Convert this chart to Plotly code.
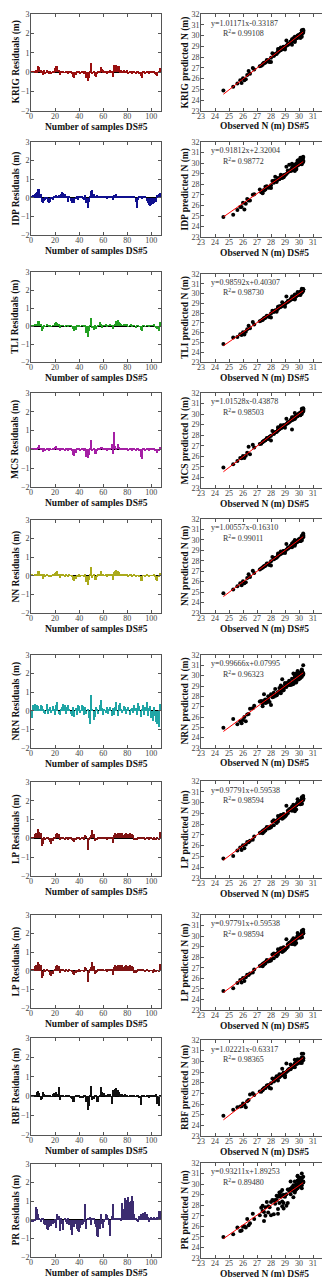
import plotly.graph_objects as go

W, H = 330, 1277

methods = ["KRIG", "IDP", "TLI", "MCS", "NN", "NRN", "LP", "LP", "RBF", "PR"]
bar_colors = ["#9a0f0f", "#10108f", "#22a022", "#a51fa5", "#aaaa1c",
              "#1fa5a5", "#801414", "#801414", "#111111", "#3c2c70"]
slopes = [1.01171, 0.91812, 0.98592, 1.01528, 1.00557, 0.99666, 0.97791, 0.97791, 1.02221, 0.93211]
intercepts = [-0.33187, 2.32004, 0.40307, -0.43878, -0.16310, 0.07995, 0.59538, 0.59538, -0.63317, 1.89253]
r2_values = ["0.99108", "0.98772", "0.98730", "0.98503", "0.99011", "0.96323", "0.98594", "0.98594", "0.98365", "0.89480"]

observed = [
    29.8, 30.1, 29.5, 28.9, 30.2, 29.7, 26.1, 28.4, 29.9, 30.3,
    27.6, 29.2, 30.0, 28.7, 26.3, 29.6, 30.2, 28.2, 29.4, 27.8,
    30.1, 25.9, 29.0, 28.6, 30.3, 29.8, 27.4, 28.9, 30.0, 29.3,
    26.0, 28.5, 29.7, 30.2, 28.1, 24.6, 29.5, 30.1, 27.7, 28.8,
    29.9, 25.6, 28.3, 30.0, 29.6, 26.7, 29.1, 30.2, 27.5, 28.0,
    29.8, 25.3, 28.7, 30.3, 29.4, 29.9, 28.4, 26.2, 30.1, 27.3,
    28.9, 29.7, 25.8, 30.0, 28.6, 29.9, 26.5, 28.5, 29.5, 30.2,
    27.9, 29.0, 30.1, 29.6, 27.4, 28.8, 27.6, 29.1, 28.2, 27.8,
    28.9, 28.0, 29.2, 28.5, 27.5, 29.9, 30.3, 29.3, 28.7, 30.0,
    29.7, 26.4, 29.4, 30.2, 28.6, 29.8, 27.2, 30.1, 29.5, 28.3,
    29.9, 30.0, 26.8, 29.6, 30.3, 28.8, 29.7,
]

res_krig = [
    0.05, 0.08, 0.06, 0.1, 0.05, 0.3, 0.25, 0.1, 0.05, -0.15,
    0.1, -0.05, 0.1, 0.05, -0.05, 0.03, -0.05, 0.08, 0.05, 0.2,
    0.3, 0.3, 0.12, -0.15, 0.05, 0.03, 0.05, -0.04, 0.06, 0.04,
    -0.05, 0.05, 0.03, -0.1, -0.25, -0.3, -0.15, 0.05, -0.04, 0.05,
    -0.1, 0.05, 0.04, -0.06, 0.05, -0.3, -0.45, -0.3, 0.05, 0.45,
    -0.1, 0.05, -0.2, -0.25, -0.05, 0.08, 0.05, 0.25, 0.15, 0.1,
    0.05, 0.08, -0.05, 0.05, 0.03, 0.1, 0.05, -0.25, 0.35, 0.3,
    0.35, 0.3, 0.3, 0.1, 0.12, 0.05, 0.1, 0.05, 0.08, 0.1,
    -0.05, 0.05, 0.08, -0.05, 0.03, 0.05, -0.08, 0.05, 0.03, -0.05,
    -0.2, -0.3, 0.05, 0.03, -0.05, 0.05, 0.04, -0.06, 0.05, 0.03,
    0.05, 0.08, -0.05, -0.15, -0.2, 0.05, 0.2,
]
res_idp = [
    0.1, 0.15, 0.2, 0.25, 0.3, 0.45, 0.5, 0.2, -0.25, -0.3,
    -0.15, -0.1, -0.05, -0.2, -0.3, -0.2, -0.05, -0.1, 0.05, 0.1,
    0.15, 0.05, 0.15, 0.1, 0.2, 0.3, 0.25, 0.2, 0.1, 0.05,
    -0.25, 0.05, -0.15, -0.3, -0.2, -0.3, -0.05, 0.05, -0.1, 0.05,
    0.1, 0.05, -0.05, -0.1, 0.15, -0.3, -0.55, -0.2, 0.05, 0.35,
    0.4, 0.2, 0.1, 0.05, 0.15, 0.1, 0.05, 0.05, 0.1, 0.05,
    0.08, 0.1, -0.05, 0.05, 0.1, 0.12, 0.05, -0.1, 0.15, 0.1,
    0.2, 0.1, 0.05, 0.1, 0.08, 0.05, 0.1, 0.12, 0.05, 0.1,
    0.05, 0.1, 0.08, 0.05, 0.1, 0.1, -0.2, -0.55, -0.1, 0.05,
    0.05, -0.05, 0.1, 0.05, 0.05, -0.15, -0.3, -0.4, -0.45, -0.4,
    -0.35, -0.3, -0.25, -0.2, 0.15, 0.2, 0.25,
]
res_tli = [
    0.05, 0.04, 0.06, 0.05, 0.08, 0.3, 0.3, 0.1, -0.25, -0.15,
    0.05, -0.04, 0.06, 0.03, -0.05, 0.04, -0.03, 0.05, 0.04, 0.15,
    0.2, 0.15, 0.1, -0.1, 0.05, 0.03, 0.05, -0.04, 0.05, 0.03,
    -0.04, 0.05, 0.03, -0.05, -0.15, -0.25, -0.2, 0.04, -0.03, 0.05,
    -0.05, 0.04, 0.03, -0.05, 0.05, -0.4, -0.6, -0.3, 0.05, 0.45,
    -0.1, -0.2, 0.05, -0.15, -0.05, 0.05, 0.25, 0.1, -0.1, 0.05,
    0.04, 0.06, -0.04, 0.05, 0.03, 0.06, 0.04, -0.15, 0.05, 0.08,
    0.3, 0.35, 0.25, 0.15, 0.1, 0.05, 0.08, 0.04, 0.06, 0.08,
    -0.04, 0.05, 0.06, -0.04, 0.03, 0.05, -0.06, 0.04, 0.03, -0.04,
    -0.2, -0.3, 0.04, 0.03, -0.04, 0.05, 0.03, -0.05, 0.04, 0.03,
    0.04, 0.06, -0.04, -0.1, -0.15, -0.3, 0.2,
]
res_mcs = [
    0.05, 0.04, 0.06, 0.05, 0.08, 0.15, 0.25, 0.08, 0.05, -0.15,
    0.05, -0.04, 0.06, 0.03, -0.05, 0.04, -0.03, 0.05, 0.04, 0.15,
    0.2, 0.08, 0.05, -0.1, 0.05, 0.03, 0.05, -0.04, 0.05, 0.03,
    -0.04, 0.05, 0.03, -0.05, -0.3, -0.35, -0.2, 0.04, -0.03, 0.05,
    -0.05, 0.04, 0.03, -0.05, 0.05, -0.4, -0.45, -0.3, 0.05, 0.5,
    -0.1, 0.05, -0.25, -0.25, -0.05, 0.05, 0.08, 0.15, 0.15, 0.1,
    0.04, 0.06, -0.04, 0.05, 0.03, 0.06, 0.3, -0.25, 0.95, 0.2,
    0.05, 0.3, 0.15, 0.1, 0.05, 0.05, 0.08, 0.04, 0.06, 0.05,
    -0.04, 0.05, 0.06, -0.04, 0.03, 0.05, -0.06, 0.04, 0.03, -0.04,
    -0.4, -0.5, 0.04, 0.03, -0.04, 0.05, 0.03, -0.05, 0.04, 0.03,
    0.04, 0.06, -0.04, -0.1, -0.2, -0.05, 0.15,
]
res_nn = [
    0.05, 0.04, 0.06, 0.05, 0.08, 0.25, 0.25, 0.08, 0.05, -0.15,
    0.05, -0.04, 0.06, 0.03, -0.05, 0.04, -0.03, 0.05, 0.04, 0.15,
    0.2, 0.25, 0.1, -0.1, 0.05, 0.03, 0.05, -0.04, 0.05, 0.03,
    -0.04, 0.05, 0.03, -0.05, -0.25, -0.3, -0.15, 0.04, -0.03, 0.05,
    -0.05, 0.04, 0.03, -0.05, 0.05, -0.35, -0.5, -0.2, 0.05, 0.45,
    -0.1, 0.05, -0.2, -0.2, -0.05, 0.05, 0.08, 0.25, 0.1, 0.05,
    0.04, 0.06, -0.04, 0.05, 0.03, 0.06, 0.05, -0.2, 0.2, 0.25,
    0.3, 0.25, 0.2, 0.08, 0.05, 0.05, 0.08, 0.04, 0.06, 0.05,
    -0.04, 0.05, 0.06, -0.04, 0.03, 0.05, -0.06, 0.04, 0.03, -0.04,
    -0.3, -0.3, 0.04, 0.03, -0.04, 0.05, 0.03, -0.05, 0.04, 0.03,
    0.04, 0.06, -0.04, -0.2, -0.3, -0.05, 0.15,
]
res_nrn = [
    -0.4, 0.3, 0.35, 0.1, 0.3, 0.25, 0.1, 0.3, 0.25, 0.05,
    -0.1, -0.15, 0.35, -0.15, 0.05, 0.2, -0.1, 0.25, 0.1, -0.2,
    0.3, 0.5, -0.15, -0.2, 0.1, 0.2, 0.35, 0.3, -0.15, 0.2,
    0.3, 0.1, -0.15, -0.3, 0.2, -0.35, 0.15, -0.2, 0.3, 0.25,
    -0.1, 0.3, 0.25, -0.2, 0.2, -0.15, 0.1, -0.4, -0.7, 0.85,
    0.1, -0.5, -0.35, 0.2, 0.1, -0.15, 0.3, 0.6, 0.15, -0.25,
    0.1, -0.1, 0.2, -0.15, 0.1, 0.2, -0.3, 0.15, -0.2, 0.2,
    0.45, -0.3, 0.3, 0.4, 0.1, -0.1, 0.25, 0.2, -0.15, 0.1,
    0.2, -0.2, 0.1, 0.15, -0.1, 0.3, 0.15, -0.2, 0.4, 0.25,
    -0.35, 0.1, 0.3, -0.25, 0.2, 0.45, -0.3, 0.15, 0.25, -0.4,
    -0.55, 0.2, -0.3, -0.6, -0.7, -0.85, 0.35,
]
res_lp = [
    0.05, 0.1, 0.25, 0.3, 0.3, 0.5, 0.35, 0.3, -0.4, -0.3,
    0.05, -0.04, 0.06, 0.03, -0.05, -0.2, -0.3, -0.15, 0.04, 0.1,
    0.25, 0.3, 0.25, -0.1, 0.05, 0.03, 0.05, -0.04, 0.05, 0.03,
    -0.04, 0.05, 0.03, -0.05, -0.15, -0.2, -0.1, 0.04, -0.03, 0.05,
    -0.05, 0.04, 0.03, -0.05, 0.2, 0.15, -0.6, -0.1, 0.05, 0.2,
    0.45, 0.25, -0.15, -0.1, -0.05, 0.05, 0.08, 0.1, 0.1, 0.05,
    0.04, 0.06, -0.04, 0.05, 0.03, 0.06, 0.05, -0.25, 0.2, 0.3,
    0.25, 0.3, 0.2, 0.3, 0.25, 0.3, 0.2, 0.25, 0.3, 0.2,
    0.25, 0.3, 0.2, 0.25, 0.2, -0.1, -0.1, -0.08, 0.1, 0.1,
    0.1, 0.08, 0.1, 0.04, -0.04, 0.05, 0.03, -0.05, 0.04, 0.03,
    -0.1, 0.05, -0.04, -0.06, 0.04, -0.05, 0.35,
]
res_rbf = [
    0.03, 0.04, 0.05, 0.08, 0.2, 0.25, 0.15, -0.2, -0.15, 0.2,
    0.1, 0.08, 0.03, -0.04, 0.05, 0.03, -0.03, 0.1, 0.15, 0.12,
    0.2, 0.1, 0.5, -0.2, 0.05, 0.03, 0.04, -0.04, 0.03, 0.03,
    -0.04, 0.05, -0.1, -0.15, -0.3, -0.3, 0.04, 0.03, -0.03, 0.04,
    -0.05, -0.1, -0.1, 0.03, 0.05, -0.3, -0.7, -0.5, 0.05, 0.55,
    -0.2, -0.15, 0.05, 0.04, -0.3, -0.3, 0.05, 0.5, 0.2, 0.15,
    0.15, 0.05, 0.04, 0.1, 0.1, 0.1, -0.4, 0.3, 0.05, 0.35,
    0.4, 0.3, 0.2, 0.05, 0.1, 0.1, 0.08, 0.1, 0.04, 0.03,
    -0.04, 0.05, 0.03, -0.04, 0.03, 0.04, -0.04, 0.04, 0.03, -0.1,
    -0.45, 0.03, 0.04, 0.03, -0.04, 0.04, 0.03, -0.1, 0.04, 0.03,
    0.04, 0.05, -0.04, 0.1, -0.4, -0.5, 0.05,
]
res_pr = [
    -0.1, -0.1, -0.05, 0.7, 0.6, 0.3, 0.1, -0.1, 0.05, 0.1,
    -0.2, -0.3, -0.5, -0.55, -0.4, -0.3, -0.35, -0.25, -0.15, -0.1,
    -0.45, 0.3, 0.2, -0.6, 0.05, -0.2, -0.55, 0.05, -0.1, -0.2,
    0.05, -0.3, -0.55, -0.8, -0.4, -0.4, -0.2, -0.5, -0.6, -0.65,
    -0.45, -0.3, -0.2, -0.1, 0.85, -0.5, 0.05, 0.1, 0.15, -0.3,
    0.1, 0.05, -0.2, -0.4, -0.85, -0.9, -0.5, 0.3, -0.2, -0.45,
    -0.1, 0.3, 0.25, 0.05, -0.3, -0.85, 0.2, 0.85, 0.1, 0.05,
    0.1, 0.05, 0.1, 0.05, -0.05, 0.9, 0.6, 1.15, 1.05, 0.5,
    1.2, 0.95, 1.0, 1.3, 1.0, 0.3, 0.1, -0.05, -0.1, 0.2,
    0.3, 0.3, 0.35, 0.3, 0.4, 0.3, 0.15, -0.1, 0.1, 0.15,
    0.1, 0.15, 0.1, 0.1, 0.15, 0.45, 0.5,
]
residuals = [res_krig, res_idp, res_tli, res_mcs, res_nn, res_nrn, res_lp, res_lp, res_rbf, res_pr]

# pixel rows: (left top, left bottom, right top, right bottom)
rows_px = [
    (6, 103, 6, 103),
    (134, 227, 134, 229),
    (264, 354, 266, 354),
    (385, 479, 385, 480),
    (512, 605, 511, 605),
    (647, 740, 647, 740),
    (774, 868, 773, 870),
    (907, 1000, 907, 1002),
    (1030, 1127, 1032, 1128),
    (1156, 1249, 1155, 1250),
]
XL0, XL1 = 23, 153
XR0, XR1 = 193, 319
xl = [XL0 / W, XL1 / W]
xr = [XR0 / W, XR1 / W]

def ydom(top, bot):
    return [1 - bot / H, 1 - top / H]

FONT = "Liberation Serif"
tickfont = dict(family=FONT, size=8, color="#444")
titlefont = dict(family=FONT, size=9.5, color="#111")
annfont = dict(family=FONT, size=8, color="#333")

samples = list(range(1, len(observed) + 1))
fig = go.Figure()
annotations = []
layout = dict(width=W, height=H, margin=dict(l=0, r=0, t=0, b=0),
              paper_bgcolor="white", plot_bgcolor="white", showlegend=False)

def axis_common():
    return dict(showline=True, linecolor="#555", linewidth=1, mirror="allticks",
                ticks="inside", ticklen=3, tickcolor="#555", showgrid=False,
                tickfont=tickfont, automargin=False, ticklabeloverflow="allow")

def paper_title(text, xpx, ypx, angle=0):
    annotations.append(dict(text=f"<b>{text}</b>", x=xpx / W, y=1 - ypx / H,
                            xref="paper", yref="paper", showarrow=False,
                            xanchor="center", yanchor="middle", textangle=angle,
                            font=titlefont))

for i, m in enumerate(methods):
    res = residuals[i]
    pred = [o - r for o, r in zip(observed, res)]
    lt, lb, rt, rb = rows_px[i]
    ax_l = 2 * i + 1
    ax_r = 2 * i + 2
    sl = "" if ax_l == 1 else str(ax_l)
    sr = str(ax_r)
    fig.add_trace(go.Bar(x=samples, y=res,
                         marker=dict(color=bar_colors[i], line=dict(width=0)),
                         width=0.9, xaxis="x" + sl, yaxis="y" + sl))
    fig.add_trace(go.Scatter(x=observed, y=pred, mode="markers",
                             marker=dict(color="black", size=4),
                             xaxis="x" + sr, yaxis="y" + sr))
    xs = [min(observed), max(observed)]
    ys = [slopes[i] * v + intercepts[i] for v in xs]
    fig.add_trace(go.Scatter(x=xs, y=ys, mode="lines", line=dict(color="red", width=1),
                             xaxis="x" + sr, yaxis="y" + sr))

    xa = axis_common()
    xa.update(domain=xl, anchor="y" + sl, range=[0, 108], tickvals=[0, 20, 40, 60, 80, 100],
              zeroline=False, ticklabelstandoff=-3)
    ya = axis_common()
    ya.update(domain=ydom(lt, lb), anchor="x" + sl, range=[-2, 3], tickvals=[-2, -1, 0, 1, 2, 3],
              zeroline=True, zerolinecolor="black", zerolinewidth=1, ticklabelstandoff=-1)
    layout["xaxis" + sl] = xa
    layout["yaxis" + sl] = ya

    xa2 = axis_common()
    xa2.update(domain=xr, anchor="y" + sr, range=[23, 32], dtick=1, zeroline=False,
               ticklabelstandoff=-3)
    ya2 = axis_common()
    ya2.update(domain=ydom(rt, rb), anchor="x" + sr, range=[23, 32], dtick=1, zeroline=False,
               ticklabelstandoff=-1)
    layout["xaxis" + sr] = xa2
    layout["yaxis" + sr] = ya2

    # axis titles
    paper_title("Number of samples DS#5", (XL0 + XL1) / 2, lb + 16)
    paper_title(f"{m} Residuals (m)", 8, (lt + lb) / 2, -90)
    paper_title("Observed N (m) DS#5", (XR0 + XR1) / 2, rb + 16)
    paper_title(f"{m} predicted N (m)", 177, (rt + rb) / 2, -90)

    b = intercepts[i]
    eq = f"y={slopes[i]:.5f}x{'+' if b >= 0 else '-'}{abs(b):.5f}"
    annotations.append(dict(text=eq, x=23.6, y=31.15, xref="x" + sr, yref="y" + sr,
                            showarrow=False, xanchor="left", yanchor="middle", font=annfont))
    annotations.append(dict(text=f"R<sup>2</sup>= {r2_values[i]}", x=24.4, y=30.2,
                            xref="x" + sr, yref="y" + sr,
                            showarrow=False, xanchor="left", yanchor="middle", font=annfont))

layout["annotations"] = annotations
fig.update_layout(**layout)
fig.update_layout(bargap=0)
fig.write_html("out.html")
